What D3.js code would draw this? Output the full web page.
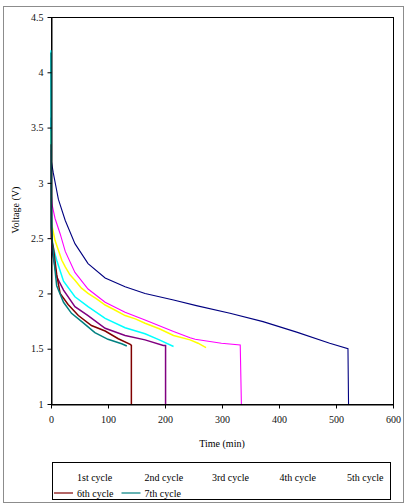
<!DOCTYPE html>
<html>
<head>
<meta charset="utf-8">
<script src="https://cdn.jsdelivr.net/npm/d3@7"></script>
<style>
  body { margin: 0; background: #fff; }
  text { font-family: "Liberation Serif", "Times New Roman", serif; }
</style>
</head>
<body>
<div id="chart"></div>
<script>
// --> DATA
var cycles = ["1st cycle", "2nd cycle", "3rd cycle", "4th cycle", "5th cycle", "6th cycle", "7th cycle"];
var colors = ["#000080", "#ff00ff", "#ffff00", "#00ffff", "#800080", "#800000", "#008080"];

var xTicks = [0, 100, 200, 300, 400, 500, 600];
var yTicks = [1, 1.5, 2, 2.5, 3, 3.5, 4, 4.5];

// time (min) / voltage (V) per cycle
var c1T = [0, 0.5, 4, 13, 25, 42, 65, 95, 130, 165, 215, 255, 314, 372, 431, 489, 521, 522];
var c1V = [3.59, 3.2, 3.09, 2.85, 2.66, 2.45, 2.27, 2.14, 2.06, 2.0, 1.94, 1.89, 1.82, 1.745, 1.65, 1.55, 1.50, 1.0];

var c2T = [0, 0.5, 2, 7, 16, 25, 42, 65, 95, 130, 165, 215, 244, 253, 273, 299, 332, 334];
var c2V = [3.3, 2.9, 2.8, 2.68, 2.54, 2.38, 2.19, 2.04, 1.92, 1.83, 1.76, 1.655, 1.6, 1.585, 1.57, 1.55, 1.534, 1.0];

var c3T = [0, 0.5, 1, 7, 13, 19, 25, 33, 42, 53, 65, 80, 95, 112, 130, 148, 165, 190, 215, 244, 258, 272];
var c3V = [3.47, 2.7, 2.63, 2.48, 2.39, 2.30, 2.24, 2.17, 2.12, 2.05, 2.0, 1.95, 1.895, 1.85, 1.80, 1.77, 1.73, 1.68, 1.62, 1.58, 1.55, 1.51];

var c4T = [0, 0.5, 2, 10, 22, 42, 65, 95, 130, 165, 190, 215];
var c4V = [4.2, 2.8, 2.45, 2.30, 2.11, 1.97, 1.88, 1.775, 1.69, 1.635, 1.58, 1.52];

var c5T = [0, 0.5, 2, 10, 22, 42, 65, 95, 130, 165, 197, 201, 201];
var c5V = [3.3, 2.6, 2.39, 2.15, 2.03, 1.88, 1.80, 1.685, 1.62, 1.58, 1.53, 1.53, 1.0];

var c6T = [0, 0.5, 4, 10, 16, 30, 48, 71, 95, 118, 139, 141, 141];
var c6V = [3.35, 2.5, 2.42, 2.17, 2.0, 1.9, 1.80, 1.71, 1.66, 1.59, 1.54, 1.53, 1.0];

var c7T = [0, 0.5, 4, 10, 22, 36, 54, 77, 100, 124, 133];
var c7V = [4.18, 2.6, 2.36, 2.07, 1.92, 1.82, 1.745, 1.645, 1.585, 1.545, 1.525];

var seriesT = [c1T, c2T, c3T, c4T, c5T, c6T, c7T];
var seriesV = [c1V, c2V, c3V, c4V, c5V, c6V, c7V];

// --> SVG
var width = 410,
    height = 504;

var svg = d3.select("#chart").append("svg")
    .attr("width", width)
    .attr("height", height);

// outer frame
svg.append("rect")
    .attr("x", 3.5).attr("y", 6.5)
    .attr("width", 400).attr("height", 496)
    .attr("fill", "none")
    .attr("stroke", "#8c8c8c");

var plotL = 51, plotR = 393, plotT = 17, plotB = 404;

var x = d3.scaleLinear().domain([0, 600]).range([plotL, plotR]);
var y = d3.scaleLinear().domain([1, 4.5]).range([plotB, plotT]);

// plot box
svg.append("rect")
    .attr("x", plotL + 0.5).attr("y", plotT + 0.5)
    .attr("width", plotR - plotL).attr("height", plotB - plotT)
    .attr("fill", "none")
    .attr("stroke", "black");

// lines
var line = d3.line()
    .x(function(d) { return x(d[0]); })
    .y(function(d) { return y(d[1]); });

var data = seriesT.map(function(ts, i) {
    return ts.map(function(t, j) { return [t, seriesV[i][j]]; });
});

svg.append("g")
    .selectAll("path")
    .data(data)
    .enter().append("path")
    .attr("d", line)
    .attr("fill", "none")
    .attr("stroke", function(d, i) { return colors[i]; })
    // the later cycles are noisy in the original, so they read as a slightly wider band
    .attr("stroke-width", function(d, i) { return i < 2 ? 1.1 : 1.5; });

// axes
var xAxis = svg.append("g")
    .attr("transform", "translate(0," + (plotB + 0.5) + ")")
    .call(d3.axisBottom(x).tickValues(xTicks).tickSize(4).tickSizeOuter(0).tickPadding(7).tickFormat(function(d) { return d; }));

var yAxis = svg.append("g")
    .attr("transform", "translate(" + (plotL + 0.5) + ",0)")
    .call(d3.axisLeft(y).tickValues(yTicks).tickSize(4).tickSizeOuter(0).tickPadding(4).tickFormat(function(d) { return String(d); }));

[xAxis, yAxis].forEach(function(a) {
    a.select(".domain").attr("stroke", "black");
    a.selectAll("line").attr("stroke", "black");
    a.selectAll("text")
        .style("font-family", "'Liberation Serif', serif")
        .style("font-size", "10px")
        .attr("fill", "#111");
});

// axis titles
svg.append("text")
    .attr("x", (plotL + plotR) / 2)
    .attr("y", 447)
    .attr("text-anchor", "middle")
    .style("font-size", "10px")
    .text("Time (min)");

svg.append("text")
    .attr("transform", "translate(19," + 210 + ") rotate(-90)")
    .attr("text-anchor", "middle")
    .style("font-size", "10px")
    .text("Voltage (V)");

// legend
svg.append("rect")
    .attr("x", 52.5).attr("y", 462.5)
    .attr("width", 338).attr("height", 37)
    .attr("fill", "none")
    .attr("stroke", "black");

var legend = svg.append("g")
    .selectAll("g")
    .data(cycles)
    .enter().append("g")
    .attr("transform", function(d, i) {
        return "translate(" + (54 + (i % 5) * 67.5) + "," + (i < 5 ? 477 : 493) + ")";
    });

// first-row swatches don't show in the original
legend.filter(function(d, i) { return i >= 5; })
    .append("line")
    .attr("x1", 0).attr("x2", 19)
    .attr("y1", 0).attr("y2", 0)
    .attr("stroke", function(d) { return colors[cycles.indexOf(d)]; })
    .attr("stroke-width", 1.2);

legend.append("text")
    .attr("x", 23)
    .attr("y", 3.5)
    .style("font-size", "10px")
    .text(function(d) { return d; });
</script>
</body>
</html>
